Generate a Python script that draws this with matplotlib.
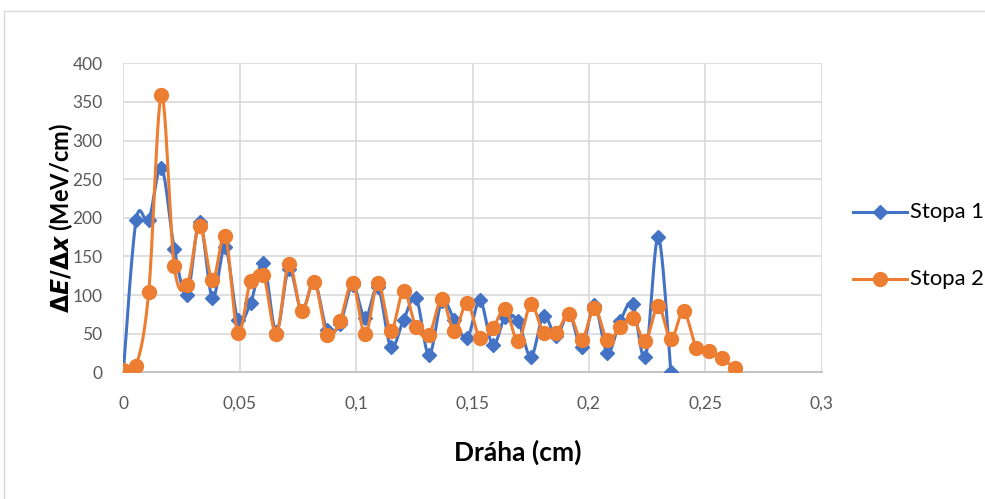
import numpy as np
import matplotlib
matplotlib.use("Agg")
import matplotlib.pyplot as plt
from matplotlib.patches import Rectangle
from matplotlib.ticker import FuncFormatter

plt.rcParams['font.family'] = ['Lato', 'DejaVu Sans']

# Path along the track (cm)
draha = [0.0, 0.0055, 0.0109, 0.0164, 0.0219, 0.0274, 0.0328, 0.0383, 0.0438,
         0.0492, 0.0547, 0.0602, 0.0657, 0.0711, 0.0766, 0.0821, 0.0875, 0.0930,
         0.0985, 0.1039, 0.1094, 0.1149, 0.1204, 0.1258, 0.1313, 0.1368, 0.1422,
         0.1477, 0.1532, 0.1587, 0.1641, 0.1696, 0.1751, 0.1805, 0.1860, 0.1915,
         0.1969, 0.2024, 0.2079, 0.2134, 0.2188, 0.2243, 0.2298, 0.2352, 0.2407,
         0.2462, 0.2516, 0.2571, 0.2626]

# Energy loss per unit path (MeV/cm)
stopa1 = [0, 197, 197, 265, 160, 100, 195, 96, 162, 68, 90, 142, 52, 134, 80,
          117, 55, 62, 113, 70, 110, 33, 68, 96, 22, 92, 68, 44, 93, 35, 72, 66,
          20, 73, 47, 76, 33, 87, 25, 66, 88, 20, 175, 1]
stopa2 = [3, 8.5, 103.5, 359, 137, 113, 190, 119, 177, 51, 118.5, 126, 50, 140,
          79, 117, 48, 66, 116, 49, 116, 54, 105, 58, 48, 95, 53, 90, 44, 57, 82,
          40, 88, 51, 51, 76, 42, 83, 42, 58, 70, 41, 86, 43, 79, 32, 27, 18, 5]

x_ticks = [0, 0.05, 0.1, 0.15, 0.2, 0.25, 0.3]
y_ticks = [0, 50, 100, 150, 200, 250, 300, 350, 400]

BLUE = '#4472C4'
ORANGE = '#ED7D31'
GRID = '#D9D9D9'
TEXT = '#595959'


def smooth_curve(xs, ys, n=24):
    """Bezier smoothing through every point (Catmull-Rom style tangents)."""
    p = np.column_stack([xs, ys]).astype(float)
    pad = np.vstack([p[0], p, p[-1]])
    out = [p[:1]]
    t = np.linspace(0, 1, n)[1:, None]
    for i in range(len(p) - 1):
        p0, p1, p2, p3 = pad[i], pad[i + 1], pad[i + 2], pad[i + 3]
        b1 = p1 + (p2 - p0) / 6.0
        b2 = p2 - (p3 - p1) / 6.0
        seg = ((1 - t) ** 3) * p1 + 3 * ((1 - t) ** 2) * t * b1 \
            + 3 * (1 - t) * t ** 2 * b2 + t ** 3 * p2
        out.append(seg)
    c = np.vstack(out)
    return c[:, 0], c[:, 1]


W, H = 985, 499
fig = plt.figure(figsize=(W / 100, H / 100), dpi=100)

# chart frame
fig.patches.append(Rectangle((4 / W, -0.05), 1.2, 1 - 11 / H + 0.05,
                             transform=fig.transFigure, fill=False,
                             edgecolor=GRID, linewidth=1.0))

ax = fig.add_axes([123.3 / W, 1 - 372.3 / H, (821.7 - 123.3) / W, (372.3 - 63.3) / H])
ax.set_xlim(0, 0.3)
ax.set_ylim(0, 400)
ax.set_xticks(x_ticks)
ax.set_yticks(y_ticks)
ax.xaxis.set_major_formatter(FuncFormatter(lambda v, _: ('%g' % round(v, 3)).replace('.', ',')))
ax.grid(True, color=GRID, linewidth=1.2)
ax.set_axisbelow(True)
for s in ['left', 'right', 'top']:
    ax.spines[s].set_visible(False)
ax.spines['bottom'].set_color('#BFBFBF')
ax.spines['bottom'].set_linewidth(1.3)
ax.tick_params(length=0, labelsize=12.5, colors=TEXT)
ax.tick_params(axis='y', pad=15)
ax.tick_params(axis='x', pad=17)

x1 = draha[:len(stopa1)]
sx, sy = smooth_curve(x1, stopa1)
ax.plot(sx, sy, color=BLUE, linewidth=2.2, solid_capstyle='round', zorder=3)
ax.plot(x1, stopa1, linestyle='none', marker='D', markersize=7.5, color=BLUE, zorder=4)

sx, sy = smooth_curve(draha, stopa2)
ax.plot(sx, sy, color=ORANGE, linewidth=2.2, solid_capstyle='round', zorder=5)
ax.plot(draha, stopa2, linestyle='none', marker='o', markersize=10, color=ORANGE, zorder=6)

# axis titles
fig.text(518 / W, 1 - 452 / H, 'Dráha (cm)', ha='center', va='center',
         fontsize=19, fontweight='bold', color='#000000')
fig.text(61 / W, 1 - 218 / H,
         r'$\mathbf{\Delta}\boldsymbol{E}\mathbf{/\Delta}\boldsymbol{x}$ (MeV/cm)',
         rotation=90, ha='center', va='center', fontsize=17, fontweight='bold',
         color='#000000')

# legend
for yy, col, mk, ms, label in [(212, BLUE, 'D', 7.5, 'Stopa 1'),
                                (279, ORANGE, 'o', 10, 'Stopa 2')]:
    yf = 1 - yy / H
    fig.add_artist(plt.Line2D([853 / W, 907 / W], [yf, yf], color=col, linewidth=2.2,
                              transform=fig.transFigure))
    fig.add_artist(plt.Line2D([880 / W], [yf], marker=mk, markersize=ms, color=col,
                              linestyle='none', transform=fig.transFigure))
    fig.text(910 / W, yf, label, ha='left', va='center', fontsize=15.8, color='#000000')

fig.savefig('out.png', dpi=100)
